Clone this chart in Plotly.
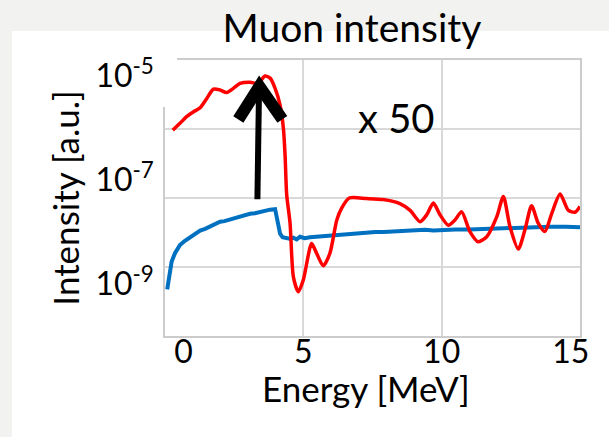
import plotly.graph_objects as go

# ---- data ----
blue_energy = [0.08, 0.16, 0.24, 0.36, 0.54, 0.72, 0.85, 1.02, 1.15, 1.27, 1.45, 1.63, 1.80, 1.99,
               2.15, 2.35, 2.55, 2.71, 2.90, 3.07, 3.25, 3.43, 3.61, 3.80, 3.98, 4.04, 4.10, 4.16,
               4.25, 4.34, 4.50, 4.64, 4.76, 4.88, 5.05, 5.24, 5.50, 5.75, 6.08, 6.40, 6.70, 7.00,
               7.29, 7.60, 7.90, 8.20, 8.49, 8.80, 9.10, 9.40, 9.70, 10.0, 10.5, 11.0, 11.5, 12.0,
               12.5, 13.0, 13.5, 13.9, 14.5, 15.0]
blue_intensity = [7.9e-10, 1.6e-9, 2.7e-9, 3.9e-9, 5.6e-9, 6.8e-9, 7.6e-9, 8.7e-9, 9.5e-9, 1.07e-8,
                  1.15e-8, 1.26e-8, 1.41e-8, 1.58e-8, 1.62e-8, 1.74e-8, 1.91e-8, 2.04e-8, 2.14e-8,
                  2.24e-8, 2.29e-8, 2.40e-8, 2.63e-8, 2.69e-8, 2.75e-8, 1.95e-8, 1.26e-8, 9.3e-9,
                  7.9e-9, 7.6e-9, 7.4e-9, 7.8e-9, 7.2e-9, 8.1e-9, 7.6e-9, 7.9e-9, 8.1e-9, 8.5e-9,
                  8.7e-9, 9.1e-9, 9.3e-9, 9.5e-9, 9.8e-9, 1.0e-8, 1.0e-8, 1.02e-8, 1.02e-8, 1.07e-8,
                  1.07e-8, 1.10e-8, 1.07e-8, 1.10e-8, 1.12e-8, 1.12e-8, 1.15e-8, 1.15e-8, 1.17e-8,
                  1.20e-8, 1.23e-8, 1.26e-8, 1.26e-8, 1.23e-8]

red_energy = [0.28, 0.54, 0.78, 1.02, 1.27, 1.51, 1.75, 1.99, 2.23, 2.47, 2.71, 3.07, 3.37, 3.61,
              3.80, 3.98, 4.16, 4.28, 4.34, 4.40, 4.52, 4.64, 4.82, 5.00, 5.30, 5.48, 5.72, 5.96,
              6.21, 6.39, 6.66, 7.29, 7.89, 8.49, 8.86, 9.22, 9.46, 9.70, 9.94, 10.24, 10.48,
              10.72, 11.02, 11.32, 11.63, 11.99, 12.23, 12.47, 12.77, 13.01, 13.25, 13.49, 13.73,
              13.98, 14.28, 14.58, 14.82, 15.0]
red_intensity = [9.1e-7, 1.23e-6, 1.66e-6, 2.04e-6, 2.45e-6, 3.7e-6, 5.6e-6, 5.4e-6, 4.8e-6, 5.8e-6,
                 7.2e-6, 7.6e-6, 7.2e-6, 1.0e-5, 9.1e-6, 5.8e-6, 2.75e-6, 9.8e-7, 3.0e-7, 5.1e-8,
                 1.48e-8, 1.38e-9, 7.1e-10, 1.20e-9, 6.0e-9, 3.9e-9, 2.24e-9, 3.9e-9, 1.70e-8,
                 2.9e-8, 4.5e-8, 4.4e-8, 4.2e-8, 3.5e-8, 2.6e-8, 1.58e-8, 2.14e-8, 3.6e-8, 2.14e-8,
                 1.35e-8, 1.70e-8, 2.45e-8, 1.02e-8, 6.5e-9, 8.1e-9, 1.95e-8, 4.8e-8, 1.26e-8,
                 4.7e-9, 1.10e-8, 3.2e-8, 1.48e-8, 1.02e-8, 2.29e-8, 5.4e-8, 2.6e-8, 2.4e-8, 3.1e-8]

x_tick_vals = [0, 5, 10, 15]
x_tick_text = ["\u2007\u20070", "5", "10", "15\u2007"]
y_tick_vals = [1e-9, 1e-7, 1e-5]
y_tick_text = ["10<sup>-9</sup>", "10<sup>-7</sup>", "10<sup>-5</sup>"]

FONT = "Lato"
GRID = "#d9d9d9"

fig = go.Figure()
fig.add_trace(go.Scatter(x=blue_energy, y=blue_intensity, mode="lines",
                         line=dict(color="#0070c0", width=4), showlegend=False))
fig.add_trace(go.Scatter(x=red_energy, y=red_intensity, mode="lines",
                         line=dict(color="#ff0000", width=3.5, shape="spline", smoothing=0.7),
                         showlegend=False))

shapes = [
    # white slide panel behind the chart
    dict(type="rect", xref="paper", yref="paper", x0=-0.3687, x1=1.2, y0=-0.5, y1=1.105,
         fillcolor="white", line=dict(width=0), layer="below"),
    # top-left corner where the frame is hidden
    dict(type="rect", xref="paper", yref="paper", x0=-0.012, x1=0.029, y0=0.83, y1=1.02,
         fillcolor="white", line=dict(width=0), layer="above"),
    # arrow shaft
    dict(type="line", xref="x", yref="y", x0=3.34, y0=10 ** -7.37, x1=3.40, y1=10 ** -5.2,
         line=dict(color="black", width=6), layer="above"),
    # arrow head (chevron)
    dict(type="path", xref="x", yref="y", xsizemode="pixel", ysizemode="pixel",
         xanchor=3.41, yanchor=10 ** -4.95, path="M -21,-46 L 0,-13 L 23,-46",
         line=dict(color="black", width=12), layer="above"),
]

fig.update_layout(
    width=609, height=437,
    margin=dict(l=165, r=29, t=60, b=101, autoexpand=False),
    paper_bgcolor="#f2f2f0", plot_bgcolor="white",
    font=dict(family=FONT, color="black"),
    title=dict(text="Muon intensity", font=dict(family=FONT, size=39, color="black"),
               x=0.578, xanchor="center", y=0.935, yanchor="middle", yref="container"),
    shapes=shapes,
    annotations=[
        dict(text="x 50", x=8.35, y=-5.81, xref="x", yref="y", showarrow=False,
             font=dict(family=FONT, size=40, color="black")),
        # x-axis title
        dict(text="Energy [MeV]", x=0.4855, y=-0.19, xref="paper", yref="paper",
             xanchor="center", yanchor="middle", showarrow=False,
             font=dict(family=FONT, size=35, color="black")),
    ],
)
fig.update_xaxes(range=[0, 15], tickvals=x_tick_vals, ticktext=x_tick_text, automargin=False,
                 tickfont=dict(size=32), showgrid=True, gridcolor=GRID, gridwidth=1.5,
                 showline=True, linecolor="#cccccc", linewidth=1.5, mirror=True,
                 zeroline=False, ticks="", ticklabelstandoff=-13, ticklabeloverflow="allow")
fig.update_yaxes(type="log", range=[-10, -4.692], tickvals=y_tick_vals, ticktext=y_tick_text,
                 automargin=False,
                 tickfont=dict(size=32), showgrid=False, ticks="", ticklabelstandoff=3,
                 minor=dict(tickvals=[10 ** -8.673, 10 ** -7.346, 10 ** -6.019], showgrid=True,
                            gridcolor=GRID, gridwidth=1.5, ticks=""),
                 showline=True, linecolor="#cccccc", linewidth=1.5, mirror=True, zeroline=False,
                 title=dict(text="Intensity [a.u.]", font=dict(size=35), standoff=5))

fig.write_html("out.html")
